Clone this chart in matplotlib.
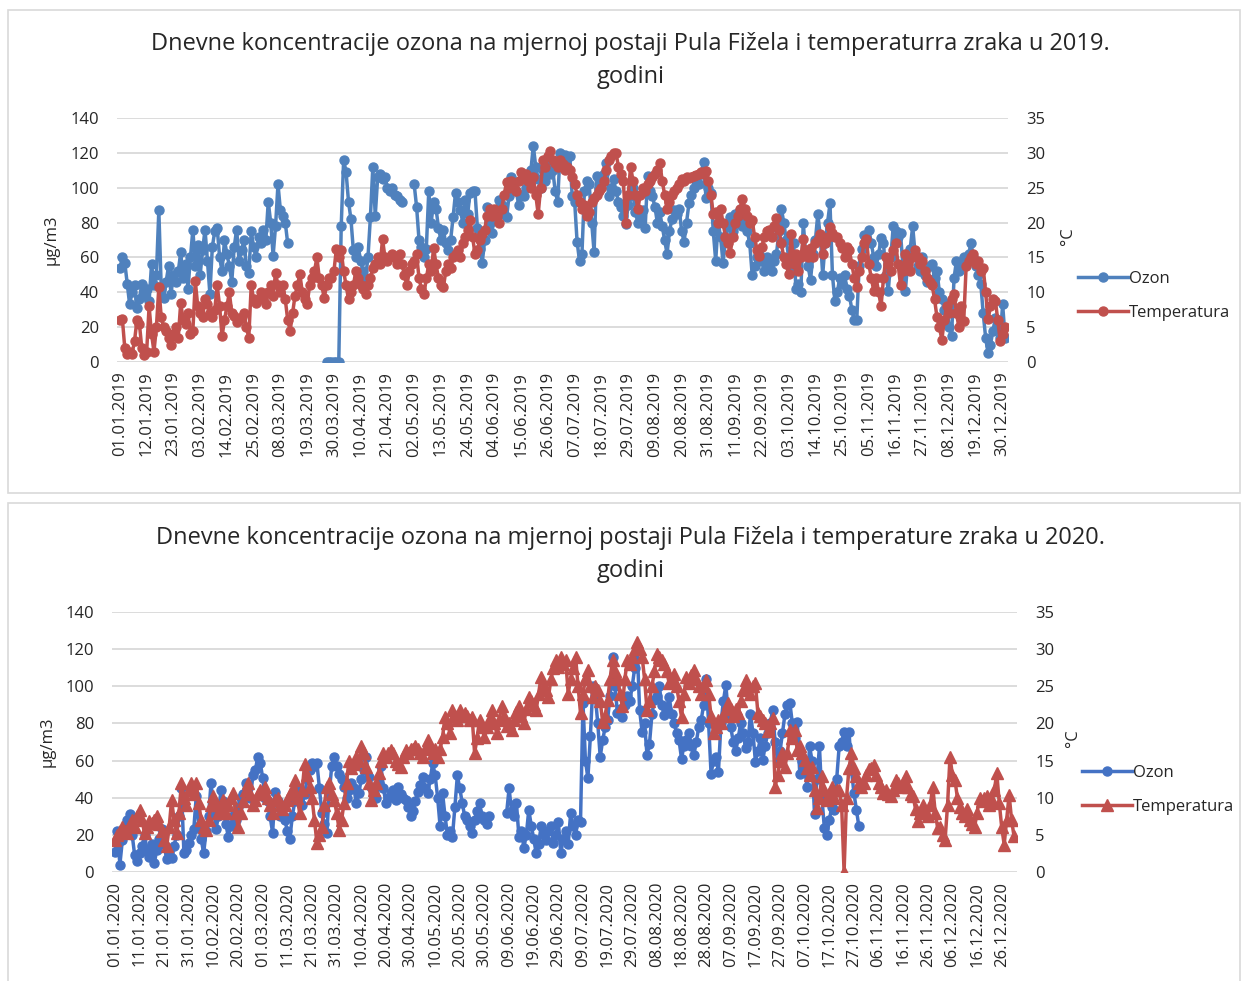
import matplotlib.pyplot as plt
import numpy as np
import pandas as pd
from matplotlib.patches import Rectangle

plt.rcParams["font.family"] = ["Open Sans", "DejaVu Sans"]

BLUE_19 = "#4F81BD"
BLUE_20 = "#4472C4"
RED = "#C0504D"
GRID = "#D9D9D9"
TEXT = "#262626"

# daily ozone 2019, µg/m3, one row per month (None = no measurement)
ozone_2019 = [
    54, 60, 57, 45, 33, 40, 44, 31, 36, 45, 38, 42, 35, 56, 44, 50, 87, 42, 37, 46, 55, 39, 50, 46, 52, 63, 48, 56, 42, 60, 76,
    55, 67, 50, 64, 76, 58, 39, 66, 75, 77, 60, 52, 70, 62, 55, 46, 66, 76, 58, 64, 70, 55, 51, 75, 66, 60, 72, 68,
    76, 70, 92, 80, 61, 78, 102, 87, 84, 80, 68, None, None, None, None, None, None, None, None, None, None, None, None, None, None, None, 0, 0, 0, 0, 0,
    0, 78, 116, 109, 92, 82, 64, 60, 66, 58, 52, 48, 60, 83, 112, 84, 106, 108, 105, 106, 100, 98, 100, 96, 95, 93, 92, None, None, None,
    None, 102, 89, 70, 66, 60, 65, 98, 80, 92, 88, 77, 70, 76, 68, 64, 70, 83, 97, 92, 87, 80, 93, 85, 97, 98, 98, 77, 65, 57, 70,
    89, 80, 74, 85, 88, 93, 90, 85, 83, 95, 106, 100, 98, 90, 96, 95, 100, 105, 110, 124, 112, 105, 100, 110, 104, 115, 108, 110, 98, 92,
    120, 118, 119, 117, 118, 95, 92, 69, 58, 62, 98, 104, 102, 80, 63, 107, 100, 103, 108, 114, 95, 100, 105, 98, 92, 89, 84, 79, 90, 95, 100,
    86, 80, 84, 87, 77, 107, 98, 95, 89, 80, 86, 78, 70, 62, 75, 82, 87, 85, 88, 75, 69, 80, 91, 96, 100, 104, 102, 108, 115, 94, 100,
    97, 75, 58, 80, 72, 57, 70, 78, 83, 75, 85, 80, 87, 78, 82, 75, 68, 50, 55, 60, 62, 58, 52, 60, 55, 52, 58, 62, 75, 88,
    80, 70, 60, 55, 68, 42, 45, 40, 80, 62, 55, 47, 62, 70, 85, 72, 50, 68, 80, 91, 50, 35, 40, 48, 45, 50, 42, 38, 30, 24, 24,
    55, 65, 73, 70, 76, 68, 60, 55, 62, 71, 68, 50, 41, 60, 78, 75, 72, 74, 55, 41, 58, 65, 78, 62, 55, 52, 60, 50, 46, 55,
    56, 48, 52, 40, 36, 30, 33, 20, 15, 48, 58, 52, 55, 60, 57, 62, 68, 60, 55, 50, 45, 28, 14, 5, 10, 18, 25, 20, 14, 33, 14,
]

# daily mean air temperature 2019, °C
temp_2019 = [
    6, 6.2, 2, 1.2, 1.5, 1.2, 3, 6, 5.5, 2, 1, 1.5, 8, 4, 1.5, 5, 10.7, 6.4, 5, 4.5, 3.5, 2.5, 4, 5, 3.5, 8.5, 6, 5.5, 7, 4, 4.5,
    11.6, 8, 7, 6.5, 9, 8.3, 7, 6.5, 7.5, 11, 8, 3.7, 6, 8, 10, 7, 6.6, 5.8, 6, 6.5, 7, 5, 3.5, 11, 9, 8.5, 9, 10,
    9, 8.3, 10, 11, 9.5, 12.8, 11, 10, 11, 9, 6, 4.5, 7, 9.5, 11, 12.6, 10, 9, 8.3, 11, 12, 13, 15, 12, 11, 9.2, 11, 12, 12, 13, 16.2,
    15, 16, 13, 11, 9, 10, 11, 13, 12, 11, 10.5, 9.7, 11, 12, 13.5, 14, 15, 14, 17.6, 15, 14.5, 15, 15.5, 15, 14, 15.5, 14, 12.5, 11, 13,
    14, 14.5, 15.5, 12, 10.5, 9.7, 12, 14, 13, 16.4, 14, 12, 11, 10.7, 13, 14, 13.5, 15, 15.5, 16, 15, 17, 18, 19, 20.3, 18, 15.5, 16, 17.5, 18.3, 19,
    21, 22, 21, 22, 21, 20, 22, 24, 25.8, 25, 26, 25, 24.6, 26, 27.2, 26.5, 27, 26, 25, 26.5, 24, 21.2, 25, 29, 28, 29.5, 30.3, 29, 28.5, 28,
    29, 28.4, 27.5, 28, 27.5, 26.5, 25.5, 24, 23, 22, 22.5, 21, 21.5, 23, 23.5, 24, 24.5, 25, 26, 27.5, 29, 29.5, 30, 30, 28, 27, 26, 20, 24, 28, 26,
    24, 22, 24, 25, 24.5, 25.5, 26, 26.5, 27, 27.5, 28.6, 26, 24, 22, 23, 24, 24.5, 25, 25.5, 26.2, 26, 26.5, 26.4, 26.5, 26.7, 26.8, 27, 27.2, 27, 27.4, 26,
    24, 21.2, 21.5, 20, 22, 20, 18, 17, 15.7, 18, 20, 21, 22, 23.4, 22, 21, 20, 20.3, 18, 16, 15.2, 16.5, 18, 18.8, 19, 18, 19.5, 20.7, 19, 17,
    15, 14, 12.6, 18.3, 14, 15.5, 13, 15, 17.6, 16, 15, 16.4, 15, 17, 17.5, 18.3, 15.5, 17, 18, 19.3, 18.5, 18, 17.9, 17, 16.4, 15, 16.5, 16, 14, 12, 10.7,
    13, 15, 17, 17.6, 14, 12, 10.2, 12, 10, 8, 12, 15, 14, 13, 16, 17.1, 14, 11, 13, 15.5, 14, 13, 15, 16, 15, 14, 14.5, 13, 12, 11.5,
    11, 9, 6.4, 5, 3.2, 6, 8, 7, 9, 9.7, 7, 5, 8, 5.9, 13.8, 14.5, 15, 15.5, 14, 14.5, 13, 13.5, 10, 6.1, 8, 9, 8.8, 6, 3, 4, 5,
]

# daily ozone 2020, µg/m3
ozone_2020 = [
    11, 22, 4, 17, 24, 28, 31, 20, 9, 6, 10, 14, 20, 12, 8, 15, 5, 12, 18, 23, 15, 7, 10, 7.5, 14, 20, 30, 45, 10, 12, 15.6,
    20, 23, 40.7, 25, 18, 10, 22, 30, 48, 35, 23, 30, 44, 38, 26, 19, 25, 30, 28, 35, 40, 42, 48, 45, 40, 52, 55, 62, 58.6,
    50.5, 40, 38, 30, 21, 43, 38, 30, 35, 28, 22, 18, 30, 38, 40, 44, 36, 42, 50, 55, 58.6, 57, 58.6, 45, 31.7, 26, 21, 42.5, 57, 62, 57,
    53, 50, 46, 40, 44, 48, 45, 37, 42.5, 50, 55, 62, 51, 46, 42.5, 40, 48, 57, 45, 37, 40, 42.5, 44, 39, 46, 42, 40, 39, 35, 30,
    33, 38, 43, 47, 51, 45, 42.5, 50, 58.6, 52, 40, 24.6, 42.5, 30, 20, 22, 19, 35, 52, 45, 37, 30, 28, 25, 21, 28, 33, 37, 30, 28, 26,
    30, None, None, None, None, None, None, 31.7, 45, 33, 30, 37, 19, 22, 13, 20, 33.5, 25, 18, 10, 15, 24.6, 20, 17.4, 22, 25, 15.6, 20, 27, 10,
    18, 22, 15, 31.7, 25, 20, 28, 27, 91, 60, 50.5, 73, 100, 95, 80, 62, 71, 78, 82, 95, 116, 100, 85.5, 88, 83.7, 90, 95, 92, 100, 110, 121,
    87, 75.6, 80, 63, 69, 85, 92.6, 95, 100, 90, 84.6, 88, 94.4, 85, 80, 75, 71, 61, 68, 71, 75, 68, 63, 70, 78, 82, 90, 104, 80, 53, 60,
    62, 54, 80, 92, 100.7, 85, 78, 70, 65, 72, 80, 75, 66.7, 70, 85, 75, 59.5, 65, 72, 60.4, 68, 75, 80, 87, 70, 60, 65, 75, 85, 90,
    91, 80, 72, 81, 53, 60, 55, 46, 67.6, 60, 31, 50, 67.6, 40, 23.7, 20, 28, 35, 33.5, 50, 67.6, 70, 75.6, 68, 75.6, 55, 42.5, 33.5, 24.6, None, None,
] + [None] * 61

# daily mean air temperature 2020, °C
temp_2020 = [
    4.3, 5, 5.5, 6, 5.5, 5.2, 6.5, 7, 6, 7.5, 8.4, 7, 5.2, 6, 6.8, 6.6, 7, 7.5, 6.5, 5.5, 4.3, 3.5, 6, 9.7, 7, 5.2, 8, 12, 10, 9, 11,
    12, 10.5, 12, 9.3, 7, 6, 5.7, 7, 9, 10.2, 9, 7.9, 8.5, 9.7, 8, 9, 10, 10.6, 8, 6.1, 8, 9.5, 11, 12, 10.5, 9, 9.7, 10.5, 11,
    10.5, 11.5, 10, 9, 7.9, 9.7, 10, 9, 8.5, 9, 9.7, 10.5, 11, 12.4, 10, 7.9, 11, 14.6, 13, 11.5, 10, 7, 3.9, 5, 6.1, 9, 11.5, 12, 10.5, 9.7, 8,
    5.7, 7, 9.3, 12, 15, 14, 14.5, 15.5, 15, 16.9, 16, 14.2, 12, 9.7, 11, 12, 13.3, 15, 16, 15.5, 16, 16.4, 16, 15, 14.5, 14.2, 15.5, 16.4, 16, 16.5,
    16.5, 16.9, 16.5, 16, 15.5, 16.5, 17.8, 17, 16, 16.5, 15.5, 16.5, 18.2, 20.9, 20, 18.7, 21.8, 21, 20.5, 21.8, 21, 21.4, 21, 20.5, 20.9, 16, 18, 20.5, 19.5, 18.2, 19.5,
    20.5, 21.8, 20, 18.7, 20.5, 22.3, 21, 19.6, 20, 19.1, 20.5, 21.5, 22.3, 21, 20, 22, 23.6, 23, 22.5, 21.8, 24, 26.3, 25, 24.5, 23.6, 26, 27.5, 28.5, 27.6, 29,
    28, 28.5, 24, 26, 27.5, 29, 25, 21.4, 24, 26, 27.2, 25, 23.6, 25, 24.5, 23, 20.2, 21, 23.2, 26, 28.5, 27, 26.3, 24, 22.3, 26, 28.5, 28, 29, 30, 31,
    30, 29, 26, 21.8, 23, 25, 27, 29.4, 29, 28.5, 28, 27, 25.4, 26, 26.7, 25, 23, 20.9, 24, 26.3, 25.5, 26.5, 27.2, 26, 25, 24, 25, 25.9, 24, 21, 18.7,
    19.5, 20.5, 20, 21, 22, 22.7, 22, 21, 22, 21.4, 23, 24.5, 25.9, 25, 24, 25, 25.4, 21.4, 21, 20.5, 20, 19, 20, 20.7, 11.5, 13, 15, 16, 14.2, 16,
    19.1, 18, 19.1, 16.4, 17, 16, 15.1, 14, 13, 14.2, 11, 8.6, 10, 12.9, 11, 9.7, 10.5, 11.5, 10, 11, 11, 9, 0, 10, 14, 16, 14, 12.9, 12, 11.5, 12,
    13, 13.8, 14, 14.4, 13, 12, 11.5, 10.6, 11, 10.5, 10.2, 11, 12.4, 12, 11.5, 12, 12.9, 11.5, 10.5, 10.2, 8.5, 6.8, 8, 9, 8, 7.5, 9, 11.5, 8, 5.9,
    6, 5, 4.3, 9, 15.5, 13, 12.4, 10, 8.8, 8, 7.5, 8.5, 7, 6.5, 6.1, 8, 10, 9.5, 10, 10.2, 9, 9.7, 11, 13.3, 9.3, 6, 3.7, 7, 10.4, 7, 4.8,
]

titles = [
    ["Dnevne koncentracije ozona na mjernoj postaji Pula Fižela i temperaturra zraka u 2019.", "godini"],
    ["Dnevne koncentracije ozona na mjernoj postaji Pula Fižela i temperature zraka u 2020.", "godini"],
]

dates_2019 = pd.date_range("2019-01-01", "2019-12-31").strftime("%d.%m.%Y")
dates_2020 = pd.date_range("2020-01-01", "2020-12-31").strftime("%d.%m.%Y")

assert len(ozone_2019) == len(temp_2019) == len(dates_2019), (len(ozone_2019), len(temp_2019))
assert len(ozone_2020) == len(temp_2020) == len(dates_2020), (len(ozone_2020), len(temp_2020))

W, H = 1244, 981
fig = plt.figure(figsize=(W / 100, H / 100), dpi=100)


def fx(px):
    return px / W


def fy(py):
    return 1 - py / H


# chart frames
for x0, y0, x1, y1 in [(8, 10, 1240, 493), (8, 503, 1240, 990)]:
    fig.add_artist(Rectangle((fx(x0), fy(y1)), fx(x1 - x0), fy(y0) - fy(y1),
                             transform=fig.transFigure, fill=False,
                             edgecolor=GRID, linewidth=1.2))


def panel(box, dates, ozone, temp, step, blue, tmarker, tsize, title, title_y, ylab_x, clab_x, leg_xy):
    x0, y0, x1, y1 = box
    ax = fig.add_axes([fx(x0), fy(y1), fx(x1 - x0), fy(y0) - fy(y1)])
    ax2 = ax.twinx()
    days = np.arange(len(dates))

    ax.plot(days, np.array(ozone, dtype=float), color=blue, lw=2.5,
            marker="o", ms=6.5, label="Ozon")
    ax2.plot(days, np.array(temp, dtype=float), color=RED, lw=2.5,
             marker=tmarker, ms=tsize, label="Temperatura")

    ax.set_xlim(-1.2, len(dates) + 0.2)
    ax.set_ylim(0, 140)
    ax.set_yticks(np.arange(0, 141, 20))
    ax2.set_ylim(0, 35)
    ax2.set_yticks(np.arange(0, 36, 5))
    ax.set_xticks(days[::step])
    ax.set_xticklabels(dates[::step], rotation=90)

    ax.grid(axis="y", color=GRID, lw=1.3)
    ax.set_axisbelow(True)
    for a in (ax, ax2):
        for s in a.spines.values():
            s.set_visible(False)
        a.tick_params(length=0, labelsize=12, colors=TEXT)
    ax.tick_params(axis="y", pad=13)
    ax.tick_params(axis="x", pad=7)
    ax2.tick_params(axis="y", pad=13)

    fig.text(0.507, fy(title_y), title[0], ha="center", va="center", fontsize=17, color=TEXT)
    fig.text(0.507, fy(title_y + 33), title[1], ha="center", va="center", fontsize=17, color=TEXT)

    mid = (y0 + y1) / 2
    fig.text(fx(ylab_x), fy(mid), "µg/m3", rotation=90, ha="center", va="center", fontsize=12, color=TEXT)
    fig.text(fx(clab_x), fy(mid - 4), "°C", rotation=90, ha="center", va="center", fontsize=12, color=TEXT)

    handles = ax.get_lines() + ax2.get_lines()
    fig.legend(handles, ["Ozon", "Temperatura"], loc="upper left",
               bbox_to_anchor=(fx(leg_xy[0]), fy(leg_xy[1])), frameon=False,
               fontsize=12, handlelength=3.0, handletextpad=0.1,
               labelspacing=1.1, borderaxespad=0, labelcolor=TEXT)


panel((117, 118, 1008, 362), dates_2019, ozone_2019, temp_2019, 11, BLUE_19, "o", 6.5,
      titles[0], 44, 52, 1068, (1071, 264))
panel((112, 612, 1017, 872), dates_2020, ozone_2020, temp_2020, 10, BLUE_20, "^", 8,
      titles[1], 538, 48, 1073, (1075, 758))

fig.savefig("out.png", dpi=100)
